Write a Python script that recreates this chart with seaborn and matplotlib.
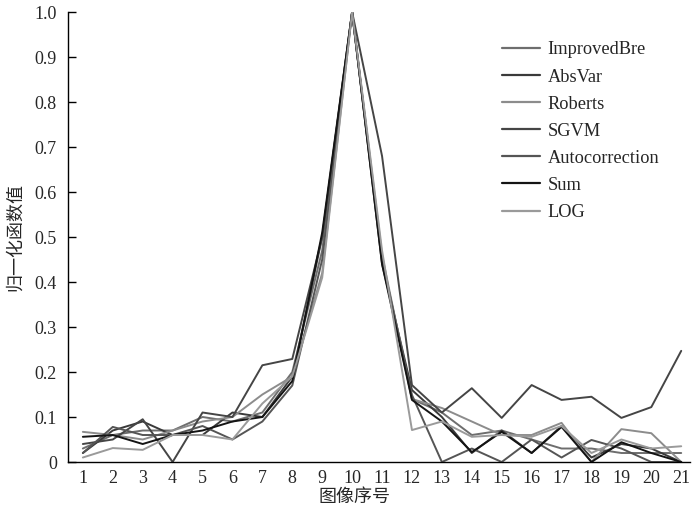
import numpy as np
import pandas as pd
import matplotlib
matplotlib.use("Agg")
import matplotlib.pyplot as plt
import seaborn as sns

x = list(range(1, 22))
improved_bre = [0.03, 0.06, 0.07, 0.07, 0.10, 0.09, 0.11, 0.20, 0.47, 1.0, 0.45, 0.14, 0.11, 0.06, 0.07, 0.05, 0.03, 0.03, 0.02, 0.02, 0.02]
absvar = [0.02, 0.07, 0.09, 0.06, 0.06, 0.11, 0.10, 0.19, 0.50, 1.0, 0.44, 0.16, 0.10, 0.02, 0.07, 0.02, 0.08, 0.01, 0.04, 0.03, 0.0]
roberts = [0.067, 0.06, 0.05, 0.07, 0.09, 0.10, 0.15, 0.19, 0.42, 1.0, 0.46, 0.14, 0.12, 0.09, 0.06, 0.06, 0.087, 0.0, 0.073, 0.064, 0.0]
sgvm = [0.04, 0.05, 0.095, 0.0, 0.11, 0.10, 0.215, 0.229, 0.50, 1.0, 0.68, 0.171, 0.11, 0.164, 0.098, 0.171, 0.138, 0.145, 0.098, 0.122, 0.247]
autocorr = [0.02, 0.078, 0.06, 0.06, 0.08, 0.05, 0.09, 0.17, 0.45, 1.0, 0.45, 0.149, 0.0, 0.03, 0.0, 0.05, 0.01, 0.049, 0.03, 0.0, 0.0]
sum_ = [0.056, 0.06, 0.04, 0.06, 0.07, 0.09, 0.10, 0.18, 0.51, 1.0, 0.44, 0.138, 0.09, 0.022, 0.067, 0.02, 0.078, 0.0, 0.044, 0.02, 0.0]
log_ = [0.01, 0.031, 0.027, 0.06, 0.06, 0.05, 0.13, 0.19, 0.41, 1.0, 0.47, 0.071, 0.09, 0.056, 0.06, 0.056, 0.08, 0.02, 0.05, 0.03, 0.035]

names = ["ImprovedBre", "AbsVar", "Roberts", "SGVM", "Autocorrection", "Sum", "LOG"]
series = [improved_bre, absvar, roberts, sgvm, autocorr, sum_, log_]
colors = ["#6e6e6e", "#3a3a3a", "#8c8c8c", "#454545", "#555555", "#141414", "#9a9a9a"]

rows = []
for n, s in zip(names, series):
    for xi, v in zip(x, s):
        rows.append({"x": xi, "v": v, "method": n})
df = pd.DataFrame(rows)

sns.set_theme(style="white")
plt.rcParams['font.family'] = ['Liberation Serif', 'Noto Sans CJK SC']

fig = plt.figure(figsize=(7, 5.13), dpi=100)
ax = fig.add_axes([0.097, 0.0994, 0.889, 0.8772])
sns.lineplot(data=df, x="x", y="v", hue="method", hue_order=names,
             palette=dict(zip(names, colors)), linewidth=1.4, ax=ax)

ax.set_xlim(0.5, 21.3)
ax.set_ylim(0, 1.0)
ax.set_xticks(x)
ax.set_xticklabels([str(i) for i in x], fontsize=13)
ax.set_yticks(np.round(np.arange(0, 1.01, 0.1), 1))
ax.set_yticklabels(["0"] + [f"{t:.1f}" for t in np.arange(0.1, 1.01, 0.1)], fontsize=13)
ax.tick_params(axis="y", direction="in", length=6, width=1, color="black", left=True, pad=8)
ax.tick_params(axis="x", length=0, pad=6)
for sp in ["top", "right"]:
    ax.spines[sp].set_visible(False)
for sp in ["left", "bottom"]:
    ax.spines[sp].set_color("black")
    ax.spines[sp].set_linewidth(1.0)

ax.set_xlabel("")
ax.set_ylabel("")
fig.text(355 / 700, 1 - 497 / 513, "图像序号", fontsize=13, family=['Noto Sans CJK SC'],
         ha="center", va="center")
fig.text(15 / 700, 1 - 237 / 513, "归一化函数值", fontsize=13, family=['Noto Sans CJK SC'],
         ha="center", va="center", rotation=90)

leg = ax.legend(loc="upper left", bbox_to_anchor=(485 / 700, 1 - 25 / 513),
                bbox_transform=fig.transFigure, frameon=False,
                fontsize=13.2, handlelength=2.1, labelspacing=0.55, handletextpad=0.4)
for line in leg.get_lines():
    line.set_linewidth(1.6)

fig.savefig("out.png", dpi=100)
